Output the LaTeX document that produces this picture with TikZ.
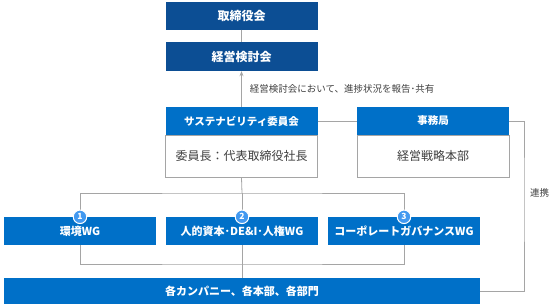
\documentclass[tikz,border=0pt]{standalone}
\usepackage{fontspec}
\setmainfont{Noto Sans CJK JP}
\usetikzlibrary{arrows.meta, positioning}

\definecolor{navyblue}{RGB}{12,78,148}
\definecolor{mainblue}{RGB}{0,112,200}
\definecolor{badgeblue}{RGB}{66,153,240}
\definecolor{linegray}{RGB}{165,165,165}
\definecolor{textgray}{RGB}{64,64,64}

\tikzset{
  topbox/.style={fill=navyblue, text=white, font=\fontsize{12}{14}\selectfont\bfseries,
    minimum width=152pt, minimum height=28pt, inner sep=0pt},
  headbox/.style={fill=mainblue, text=white, font=\fontsize{10.5}{12}\selectfont\bfseries,
    minimum width=152pt, minimum height=28pt, inner sep=0pt},
  bodybox/.style={draw=linegray, fill=white, text=textgray, font=\fontsize{12}{14}\selectfont,
    minimum width=152pt, minimum height=42pt, inner sep=0pt},
  wgbox/.style={fill=mainblue, text=white, font=\fontsize{11}{13}\selectfont\bfseries,
    minimum width=152pt, minimum height=28pt, inner sep=0pt},
  badge/.style={circle, fill=badgeblue, draw=white, line width=1pt, text=white,
    font=\fontsize{8.5}{9}\selectfont\bfseries, minimum size=13.5pt, inner sep=0pt},
  link/.style={draw=linegray, line width=0.8pt},
  note/.style={text=textgray, font=\fontsize{9.5}{11}\selectfont, inner sep=0pt}
}

\begin{document}
\begin{tikzpicture}[x=1pt, y=-1pt]
  \useasboundingbox (0,0) rectangle (560,308);

  % top of the organisation
  \node[topbox] (board) at (241.5,15.5) {取締役会};
  \node[topbox, minimum height=29pt] (mgmt) at (241.5,56.5) {経営検討会};

  % committee and secretariat
  \node[headbox] (susHead) at (241.5,121) {サステナビリティ委員会};
  \node[bodybox, below=0pt of susHead] (susBody) {委員長：代表取締役社長};
  \node[headbox] (secHead) at (433,121) {事務局};
  \node[bodybox, below=0pt of secHead] (secBody) {経営戦略本部};

  % working groups
  \node[wgbox] (wg1) at (80,231) {環境WG};
  \node[wgbox] (wg2) at (242,231) {人的資本･DE\&I･人権WG};
  \node[wgbox] (wg3) at (404,231) {コーポレートガバナンスWG};

  \node[wgbox, minimum width=476pt, minimum height=26pt] (bar) at (242,291) {各カンパニー、各本部、各部門};

  % connectors
  \draw[link] (board) -- (mgmt);
  \draw[link, -{Stealth[length=5pt, width=4pt]}] (susHead.north) -- (mgmt.south)
    node[note, midway, right=8pt] (report) {経営検討会において、進捗状況を報告･共有};
  \draw[link] (susHead.east) -- (secHead.west);

  \coordinate (relay) at (524,193);
  \draw[link] (secHead.east) -| (relay) |- (bar.east);
  \node[note, right=6pt of relay] (linkNote) {連携};

  \coordinate (split) at (242,193);
  \coordinate (merge) at (242,264);
  \draw[link] (susBody.south) -- (split);
  \draw[link] (wg1.north) |- (split) -| (wg3.north);
  \draw[link] (split) -- (wg2.north);
  \draw[link] (wg1.south) |- (merge) -| (wg3.south);
  \draw[link] (wg2.south) -- (bar.north);

  % numbered badges
  \node[badge] (b1) at (wg1.north) {1};
  \node[badge] (b2) at (wg2.north) {2};
  \node[badge] (b3) at (wg3.north) {3};
\end{tikzpicture}
\end{document}
